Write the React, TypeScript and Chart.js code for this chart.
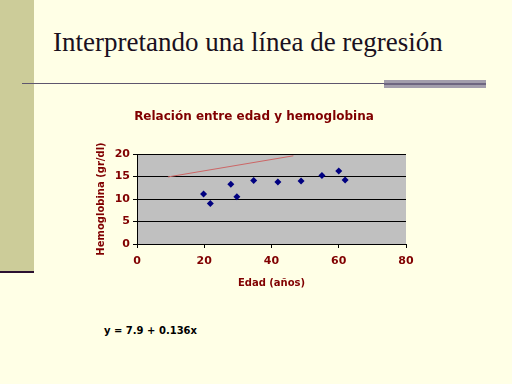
import React, { useEffect, useRef } from "react";
import { Chart, registerables } from "chart.js";

Chart.register(...registerables);

const ageValues = [19.8, 21.8, 27.9, 29.7, 34.7, 41.9, 48.8, 55.0, 60.0, 61.9];
const hemoValues = [11.1, 9.0, 13.3, 10.5, 14.1, 13.8, 14.0, 15.2, 16.2, 14.2];
const lineX = [9.2, 46.5];
const lineY = [14.9, 19.6];
const xTicks = [0, 20, 40, 60, 80];
const yTicks = [0, 5, 10, 15, 20];
const chartTitle = "Relación entre edad y hemoglobina";

const MAROON = "#800000";
const SANS = "'DejaVu Sans', Verdana, sans-serif";

const plotBg = {
  id: "plotBg",
  beforeDraw(chart: any) {
    const { ctx, chartArea } = chart;
    ctx.save();
    ctx.fillStyle = "#c0c0c0";
    ctx.fillRect(chartArea.left, chartArea.top, chartArea.right - chartArea.left, chartArea.bottom - chartArea.top);
    ctx.restore();
  },
};

const centeredTitle = {
  id: "centeredTitle",
  afterDraw(chart: any) {
    const { ctx } = chart;
    ctx.save();
    ctx.font = `bold 12px ${SANS}`;
    ctx.fillStyle = MAROON;
    ctx.textAlign = "center";
    ctx.textBaseline = "middle";
    ctx.fillText(chartTitle, 164, 17);
    ctx.restore();
  },
};

function ScatterChart() {
  const ref = useRef<HTMLCanvasElement>(null);
  useEffect(() => {
    if (!ref.current) return;
    const tickFont = { family: SANS, size: 11, weight: "bold" as const };
    const titleFont = { family: SANS, size: 10, weight: "bold" as const };
    const chart = new Chart(ref.current, {
      type: "scatter",
      data: {
        datasets: [
          {
            type: "line",
            data: lineX.map((x, i) => ({ x, y: lineY[i] })),
            borderColor: "#cc6666",
            borderWidth: 1,
            pointRadius: 0,
            fill: false,
          } as any,
          {
            data: ageValues.map((x, i) => ({ x, y: hemoValues[i] })),
            pointStyle: "rectRot",
            pointRadius: 3.5,
            backgroundColor: "#000080",
            borderColor: "#000080",
            borderWidth: 0,
          },
        ],
      },
      options: {
        animation: false,
        responsive: false,
        layout: { padding: { left: 0, right: 14, top: 54, bottom: 0 } },
        plugins: {
          legend: { display: false },
          tooltip: { enabled: false },
          title: { display: false },
        },
        scales: {
          x: {
            type: "linear",
            min: 0,
            max: 80,
            afterBuildTicks: (s: any) => { s.ticks = xTicks.map((v) => ({ value: v })); },
            ticks: { color: MAROON, font: tickFont, padding: 7 },
            grid: { drawOnChartArea: false, drawTicks: true, tickLength: 4, color: "#000" },
            border: { color: "#000", width: 1 },
            title: { display: true, text: "Edad (años)", color: MAROON, font: titleFont, padding: { top: 4, bottom: 11 } },
            afterFit: (s: any) => { s.height = 56; s.paddingLeft = 0; s.paddingRight = 0; },
          },
          y: {
            type: "linear",
            min: 0,
            max: 20,
            afterBuildTicks: (s: any) => { s.ticks = yTicks.map((v) => ({ value: v })); },
            ticks: { color: MAROON, font: tickFont, padding: 3 },
            grid: { drawOnChartArea: true, drawTicks: true, tickLength: 4, color: "#000" },
            border: { color: "#000", width: 1 },
            title: { display: true, text: "Hemoglobina (gr/dl)", color: MAROON, font: titleFont, padding: { top: 5, bottom: 0 } },
            afterFit: (s: any) => { s.width = 47; },
          },
        },
      },
      plugins: [plotBg, centeredTitle],
    });
    return () => chart.destroy();
  }, []);
  return <canvas ref={ref} width={330} height={200} style={{ position: "absolute", left: 90, top: 100, width: 330, height: 200 }} />;
}

export default function App() {
  return (
    <div style={{ position: "fixed", left: 0, top: 0, width: 512, height: 384, background: "#ffffe6", overflow: "hidden" }}>
      <div style={{ position: "absolute", left: 0, top: 0, width: 34, height: 271, background: "#cccc99" }} />
      <div style={{ position: "absolute", left: 0, top: 271, width: 34, height: 2, background: "#2a1030" }} />
      <div
        style={{
          position: "absolute",
          left: 53,
          top: 26,
          fontFamily: "'Times New Roman', 'Liberation Serif', serif",
          fontSize: 27,
          lineHeight: "32px",
          color: "#1a1020",
          whiteSpace: "nowrap",
        }}
      >
        Interpretando una línea de regresión
      </div>
      <div style={{ position: "absolute", left: 22, top: 83, width: 464, height: 1, background: "#5e566e" }} />
      <div style={{ position: "absolute", left: 384, top: 80, width: 102, height: 8, background: "#a39eac" }} />
      <div style={{ position: "absolute", left: 384, top: 83, width: 102, height: 2, background: "#6e6680" }} />
      <ScatterChart />
      <div
        style={{
          position: "absolute",
          left: 104,
          top: 324,
          fontFamily: SANS,
          fontWeight: "bold",
          fontSize: 10,
          lineHeight: "14px",
          color: "#000",
          whiteSpace: "nowrap",
        }}
      >
        y = 7.9 + 0.136x
      </div>
    </div>
  );
}
